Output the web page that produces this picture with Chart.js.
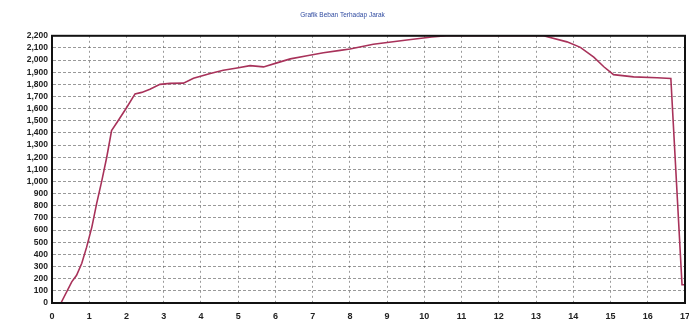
<!DOCTYPE html>
<html>
<head>
<meta charset="utf-8">
<script src="https://cdn.jsdelivr.net/npm/chart.js@4"></script>
<style>
  html, body { margin: 0; padding: 0; background: #fff; overflow: hidden; }
  #wrap { width: 689px; height: 331px; }
</style>
</head>
<body>
<div id="wrap"><canvas id="chart" width="689" height="331"></canvas></div>
<script>
Chart.defaults.animation = false;

// --- Data ---
const titleText = 'Grafik Beban Terhadap Jarak';

// distance (x) and load (y)
const jarak = [0, 0.24, 0.53, 0.66, 0.80, 0.93, 1.07, 1.20, 1.34, 1.47, 1.60, 1.78, 2.01, 2.23, 2.41, 2.63, 2.90, 3.17, 3.53, 3.80, 4.25, 4.60, 4.97, 5.32, 5.68, 6.04, 6.40, 6.85, 7.29, 7.74, 8.00, 8.63, 9.53, 10.20, 10.60, 13.20, 13.83, 14.19, 14.55, 14.82, 15.08, 15.62, 16.25, 16.62, 16.92, 17.00];
const beban = [0, 0, 174, 228, 327, 460, 625, 820, 1010, 1200, 1420, 1503, 1612, 1722, 1734, 1760, 1800, 1808, 1810, 1850, 1890, 1916, 1935, 1954, 1944, 1977, 2010, 2036, 2061, 2080, 2092, 2130, 2165, 2190, 2200, 2200, 2150, 2105, 2025, 1945, 1880, 1862, 1855, 1848, 150, 150];

const xTicks = [0, 1, 2, 3, 4, 5, 6, 7, 8, 9, 10, 11, 12, 13, 14, 15, 16, 17];
const yTicks = [0, 100, 200, 300, 400, 500, 600, 700, 800, 900, 1000, 1100, 1200, 1300, 1400, 1500, 1600, 1700, 1800, 1900, 2000, 2100, 2200];

const points = jarak.map((x, i) => ({ x: x, y: beban[i] }));

// frame around the plot area
const framePlugin = {
  id: 'frame',
  afterDraw(chart) {
    const a = chart.chartArea;
    const ctx = chart.ctx;
    ctx.save();
    ctx.strokeStyle = '#111';
    ctx.lineWidth = 2;
    ctx.strokeRect(a.left, a.top, a.right - a.left, a.bottom - a.top);
    ctx.restore();
  }
};

const gridStyle = {
  color: 'rgba(70,70,70,0.55)',
  lineWidth: 1,
  drawTicks: false
};

new Chart(document.getElementById('chart').getContext('2d'), {
  type: 'line',
  data: {
    datasets: [{
      label: 'Beban',
      data: points,
      borderColor: '#a8325a',
      borderWidth: 1.6,
      pointRadius: 0,
      tension: 0,
      fill: false
    }]
  },
  options: {
    responsive: false,
    layout: { padding: { left: 0, right: 4, top: 0, bottom: 0 } },
    plugins: {
      legend: { display: false },
      tooltip: { enabled: false },
      title: {
        display: true,
        text: titleText,
        color: '#2f4aa0',
        font: { family: 'Liberation Sans', size: 6.5, weight: 'normal' },
        padding: { top: 11, bottom: 17 }
      }
    },
    scales: {
      x: {
        type: 'linear',
        min: 0,
        max: 17,
        afterBuildTicks: (scale) => { scale.ticks = xTicks.map(v => ({ value: v })); },
        afterFit: (scale) => {
          scale.height = 28;
          scale.paddingLeft = 0;
          scale.paddingRight = 0;
        },
        grid: gridStyle,
        border: { display: true, color: '#111', width: 2, dash: [2, 3] },
        ticks: {
          padding: 8,
          color: '#222',
          font: { family: 'Liberation Sans', size: 9, weight: 'bold' },
          maxRotation: 0,
          autoSkip: false
        }
      },
      y: {
        type: 'linear',
        min: 0,
        max: 2200,
        afterBuildTicks: (scale) => { scale.ticks = yTicks.map(v => ({ value: v })); },
        afterFit: (scale) => { scale.width = 52; },
        grid: gridStyle,
        border: { display: true, color: '#111', width: 2, dash: [3, 2] },
        ticks: {
          padding: 4,
          color: '#222',
          font: { family: 'Liberation Sans', size: 8.5, weight: 'bold' },
          autoSkip: false,
          callback: (v) => v.toLocaleString('en-US')
        }
      }
    }
  },
  plugins: [framePlugin]
});
</script>
</body>
</html>
